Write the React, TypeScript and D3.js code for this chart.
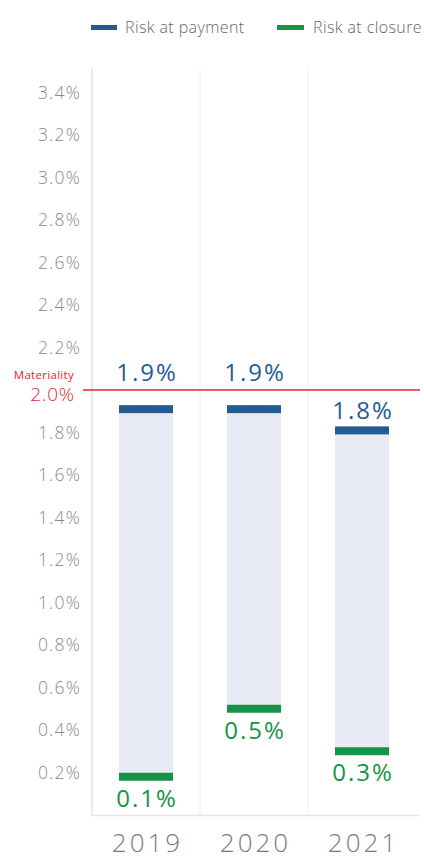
import React from "react";
import * as d3 from "d3";

const years = ["2019", "2020", "2021"];
const paymentRisk = [1.91, 1.91, 1.81];
const paymentLabels = ["1.9%", "1.9%", "1.8%"];
const closureRisk = [0.18, 0.5, 0.3];
const closureLabels = ["0.1%", "0.5%", "0.3%"];
const yTicks = [0.2, 0.4, 0.6, 0.8, 1.0, 1.2, 1.4, 1.6, 1.8, 2.2, 2.4, 2.6, 2.8, 3.0, 3.2, 3.4];
const materiality = 2.0;

const W = 424;
const H = 859;
const BLUE = "#245b90";
const GREEN = "#179347";
const RED = "#e3262d";
const FONT = "'Open Sans', 'Noto Sans', sans-serif";

const App = () => {
  const x = d3.scaleBand().domain(years).range([92, 416]).paddingInner(0);
  const y = d3.scaleLinear().domain([0, 3.5]).range([815, 71.25]);
  const bw = x.bandwidth() * 0.5;
  const yMat = y(materiality);

  return (
    <div style={{ position: "absolute", left: 0, top: 0 }}>
      <svg width={W} height={H} style={{ display: "block", fontFamily: FONT }}>
        {/* legend */}
        <rect x={91} y={25} width={26} height={5} fill={BLUE} />
        <text x={125} y={32.5} fontSize={16} letterSpacing={0.4} fill="#666" fontWeight={300}>Risk at payment</text>
        <rect x={277} y={25} width={27} height={5} fill={GREEN} />
        <text x={313} y={32.5} fontSize={16} letterSpacing={0.4} fill="#666" fontWeight={300}>Risk at closure</text>

        {/* grid */}
        {years.map((d, i) =>
          i > 0 ? (
            <line key={d} x1={x(d)} x2={x(d)} y1={68} y2={815} stroke="#f0f0f0" strokeWidth={1} />
          ) : null
        )}
        <line x1={92} x2={92} y1={68} y2={816} stroke="#e2e2e2" strokeWidth={1.5} />
        <line x1={92} x2={420} y1={815.5} y2={815.5} stroke="#e6e6e6" strokeWidth={1.5} />

        {/* y ticks */}
        {yTicks.map((t) => (
          <text key={t} x={81} y={y(t)} dy="0.35em" textAnchor="end" fontSize={17.5} letterSpacing={1.2} fill="#8a8a8a" fontWeight={300}>
            {d3.format(".1f")(t) + "%"}
          </text>
        ))}

        {/* materiality */}
        <line x1={83} x2={420} y1={yMat} y2={yMat} stroke={RED} strokeWidth={1.5} />
        <text x={74} y={379} textAnchor="end" fontSize={11.5} letterSpacing={0.3} fill={RED}>Materiality</text>
        <text x={75} y={401} textAnchor="end" fontSize={19} letterSpacing={0.8} fill={RED} fontWeight={300}>
          {d3.format(".1f")(materiality) + "%"}
        </text>

        {/* bars */}
        {years.map((d, i) => {
          const cx = x(d)! + x.bandwidth() / 2;
          const yb = y(paymentRisk[i]);
          const yg = y(closureRisk[i]);
          let labTop = yb - 11;
          if (labTop > yMat - 25 && labTop < yMat + 22) labTop = yMat - 9;
          return (
            <g key={d}>
              <rect x={cx - bw / 2} y={yb} width={bw} height={yg - yb} fill="#e8ebf5" />
              <rect x={cx - bw / 2} y={yb - 4} width={bw} height={8} fill={BLUE} />
              <rect x={cx - bw / 2} y={yg - 4} width={bw} height={8} fill={GREEN} />
              <text x={cx + 1} y={labTop} textAnchor="middle" fontSize={24} letterSpacing={2} fill={BLUE} fontWeight={500}>
                {paymentLabels[i]}
              </text>
              <text x={cx + 1} y={yg + 30} textAnchor="middle" fontSize={24} letterSpacing={2} fill={GREEN} fontWeight={500}>
                {closureLabels[i]}
              </text>
              <text x={cx + 1.5} y={852} textAnchor="middle" fontSize={26} letterSpacing={3} fill="#7a7a7a" fontWeight={300}>
                {d}
              </text>
            </g>
          );
        })}
      </svg>
    </div>
  );
};

export default App;
